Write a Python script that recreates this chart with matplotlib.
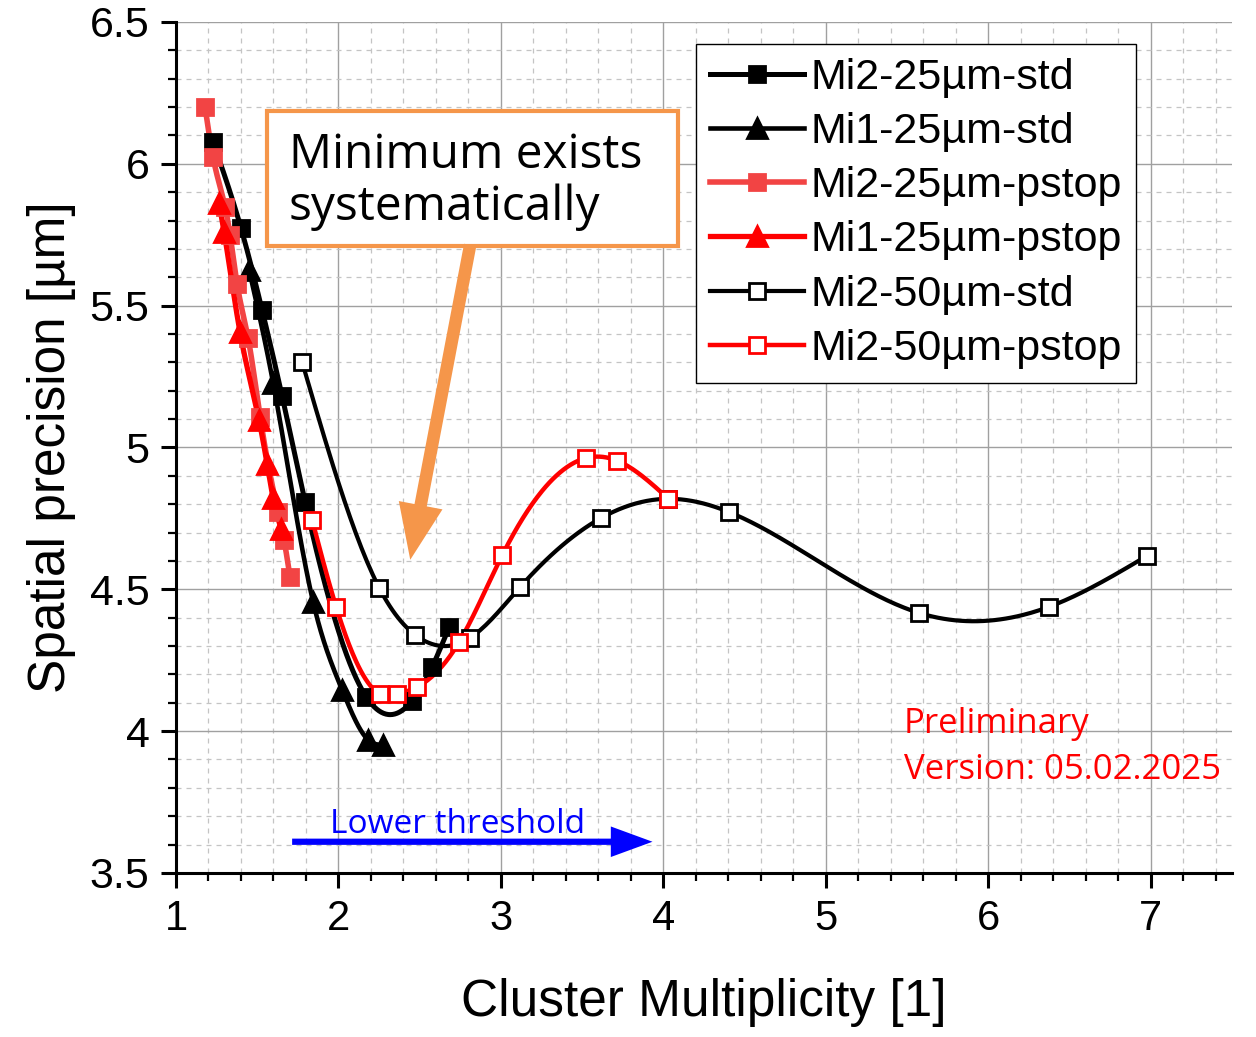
import numpy as np
import matplotlib
matplotlib.use("Agg")
import matplotlib.pyplot as plt
from matplotlib.patches import Rectangle, FancyArrowPatch
from matplotlib.ticker import MultipleLocator

plt.rcParams['font.family'] = ['Liberation Sans', 'DejaVu Sans']

# data
mi2_25_std_x = [1.228, 1.400, 1.530, 1.653, 1.795, 2.171, 2.454, 2.577, 2.682]
mi2_25_std_y = [6.077, 5.774, 5.485, 5.182, 4.808, 4.121, 4.107, 4.227, 4.367]

mi1_25_std_x = [1.450, 1.598, 1.844, 2.023, 2.183, 2.275]
mi1_25_std_y = [5.626, 5.228, 4.456, 4.145, 3.969, 3.951]

mi2_25_pstop_x = [1.179, 1.228, 1.302, 1.333, 1.376, 1.444, 1.518, 1.628, 1.665, 1.702]
mi2_25_pstop_y = [6.200, 6.024, 5.848, 5.749, 5.577, 5.386, 5.108, 4.773, 4.674, 4.544]

mi1_25_pstop_x = [1.265, 1.296, 1.394, 1.511, 1.561, 1.598, 1.647]
mi1_25_pstop_y = [5.862, 5.760, 5.407, 5.097, 4.942, 4.822, 4.713]

mi2_50_std_x = [1.776, 2.251, 2.473, 2.811, 3.120, 3.619, 4.031, 4.401, 5.572, 6.373, 6.977]
mi2_50_std_y = [5.302, 4.505, 4.339, 4.329, 4.509, 4.752, 4.819, 4.773, 4.417, 4.438, 4.618]

mi2_50_pstop_x = [1.838, 1.986, 2.257, 2.362, 2.485, 2.744, 3.009, 3.526, 3.717, 4.031]
mi2_50_pstop_y = [4.745, 4.438, 4.131, 4.131, 4.156, 4.315, 4.621, 4.963, 4.953, 4.819]


def spline(x, y, n=300):
    # natural cubic spline, like Origin's "spline" connection
    x = np.asarray(x, float)
    y = np.asarray(y, float)
    m = len(x)
    h = np.diff(x)
    A = np.zeros((m, m))
    r = np.zeros(m)
    A[0, 0] = A[-1, -1] = 1
    for i in range(1, m - 1):
        A[i, i - 1] = h[i - 1]
        A[i, i] = 2 * (h[i - 1] + h[i])
        A[i, i + 1] = h[i]
        r[i] = 3 * ((y[i + 1] - y[i]) / h[i] - (y[i] - y[i - 1]) / h[i - 1])
    c = np.linalg.solve(A, r)
    b = (y[1:] - y[:-1]) / h - h * (2 * c[:-1] + c[1:]) / 3
    d = (c[1:] - c[:-1]) / (3 * h)
    xs = np.linspace(x[0], x[-1], n)
    i = np.clip(np.searchsorted(x, xs) - 1, 0, m - 2)
    dx = xs - x[i]
    return xs, y[i] + b[i] * dx + c[i] * dx ** 2 + d[i] * dx ** 3


fig = plt.figure(figsize=(12.56, 10.37), dpi=100)
ax = fig.add_axes([0.1401, 0.1582, 0.8408, 0.8206])

series = [
    (mi2_25_std_x, mi2_25_std_y, 'Mi2-25µm-std', 'black', 's', 'black', 3.6, 12),
    (mi1_25_std_x, mi1_25_std_y, 'Mi1-25µm-std', 'black', '^', 'black', 3.3, 14),
    (mi2_25_pstop_x, mi2_25_pstop_y, 'Mi2-25µm-pstop', '#f24444', 's', '#f24444', 4.0, 12),
    (mi1_25_pstop_x, mi1_25_pstop_y, 'Mi1-25µm-pstop', '#ff0000', '^', '#ff0000', 3.8, 14),
    (mi2_50_std_x, mi2_50_std_y, 'Mi2-50µm-std', 'black', 's', 'white', 3.0, 11.5),
    (mi2_50_pstop_x, mi2_50_pstop_y, 'Mi2-50µm-pstop', '#ff0000', 's', 'white', 3.2, 11.5),
]

for x, y, lab, col, mk, fc, lw, ms in series:
    xs, ys = spline(x, y)
    ax.plot(xs, ys, color=col, lw=lw, zorder=3)
    ax.plot(x, y, ls='none', marker=mk, ms=ms, mfc=fc, mec=col, mew=2.0, zorder=4)
    ax.plot([], [], color=col, lw=lw, marker=mk, ms=ms, mfc=fc, mec=col, mew=2.0, label=lab)

ax.set_xlim(1, 7.5)
ax.set_ylim(3.5, 6.5)
ax.xaxis.set_major_locator(MultipleLocator(1))
ax.xaxis.set_minor_locator(MultipleLocator(0.2))
ax.yaxis.set_major_locator(MultipleLocator(0.5))
ax.yaxis.set_minor_locator(MultipleLocator(0.1))
ax.xaxis.set_major_formatter(plt.FuncFormatter(lambda v, p: '%g' % v))
ax.yaxis.set_major_formatter(plt.FuncFormatter(lambda v, p: '%g' % v))

ax.grid(which='major', color='#a0a0a0', lw=1.0, zorder=0)
ax.grid(which='minor', color='#c4c4c4', lw=0.9, ls=(0, (4, 4)), zorder=0)
ax.set_axisbelow(True)

for s in ['top', 'right']:
    ax.spines[s].set_visible(False)
for s in ['left', 'bottom']:
    ax.spines[s].set_linewidth(2.2)

ax.tick_params(which='major', direction='out', length=11, width=2.2, labelsize=30, pad=8)
ax.tick_params(axis='y', which='major', labelsize=31)
ax.tick_params(which='minor', direction='out', length=6, width=1.6)

ax.set_xlabel('Cluster Multiplicity [1]', fontsize=37, labelpad=28)
ax.set_ylabel('Spatial precision [µm]', fontsize=37, labelpad=10)

leg = ax.legend(loc='upper left', bbox_to_anchor=(0.4924, 0.9741), borderaxespad=0,
                fontsize=31, frameon=True, fancybox=False, framealpha=1,
                edgecolor='black', handlelength=2.2, handletextpad=0.15,
                labelspacing=0.33, borderpad=0.32)
leg.get_frame().set_linewidth(1.0)

# annotation box
orange = '#f5964a'
ax.add_patch(Rectangle((1.561, 5.710), 4.087 - 1.561, 6.186 - 5.710, facecolor='white',
                       edgecolor=orange, lw=3, zorder=5))
ax.text(1.696, 5.940, 'Minimum exists\nsystematically', fontsize=34.5, family=['Open Sans', 'DejaVu Sans'],
        va='center', ha='left', linespacing=1.12, zorder=6)
ax.add_patch(FancyArrowPatch((2.811, 5.714), (2.442, 4.604),
                             arrowstyle='simple,head_length=40,head_width=32,tail_width=9',
                             mutation_scale=1, color=orange, lw=0, shrinkA=0, shrinkB=0, zorder=6))

# lower threshold arrow
ax.add_patch(FancyArrowPatch((1.715, 3.610), (3.933, 3.610),
                             arrowstyle='simple,head_length=30,head_width=22,tail_width=4.5',
                             mutation_scale=1, color='#0000ff', lw=0, shrinkA=0, shrinkB=0, zorder=6))
ax.text(2.731, 3.640, 'Lower threshold', fontsize=24, color='#0000ff',
        family=['Open Sans', 'DejaVu Sans'], ha='center', va='baseline', zorder=6)

ax.text(5.479, 4.025, 'Preliminary', fontsize=25, color='#ff0000',
        family=['Open Sans', 'DejaVu Sans'], ha='left', va='center', zorder=6)
ax.text(5.479, 3.862, 'Version: 05.02.2025', fontsize=25, color='#ff0000',
        family=['Open Sans', 'DejaVu Sans'], ha='left', va='center', zorder=6)

fig.savefig('out.png', dpi=100)
